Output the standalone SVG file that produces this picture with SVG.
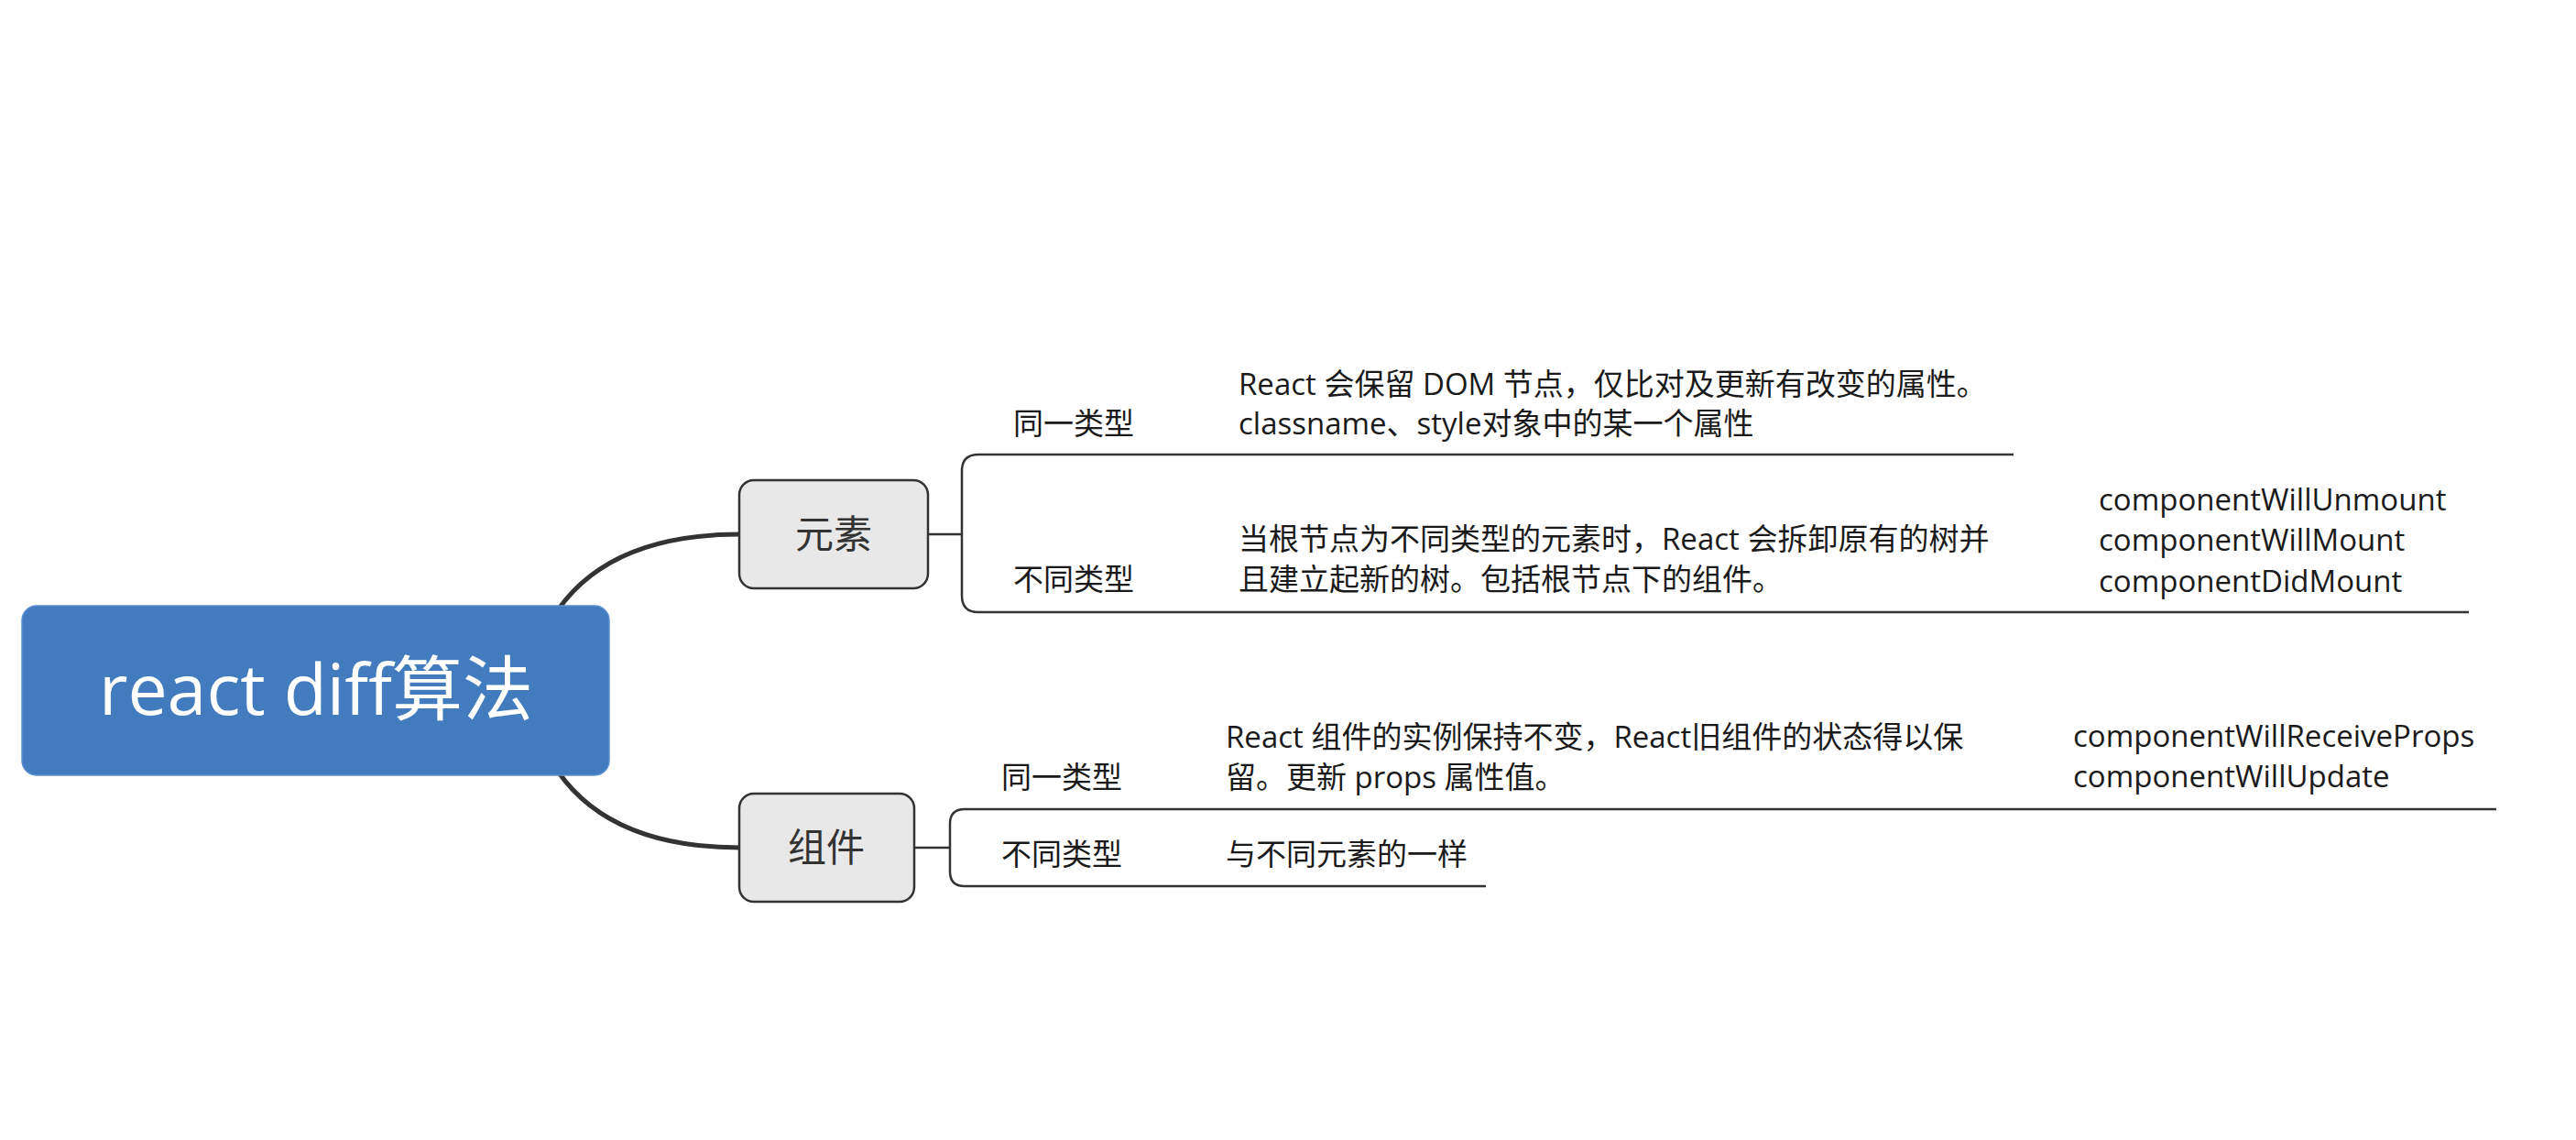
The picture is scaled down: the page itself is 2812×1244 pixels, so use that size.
<svg xmlns="http://www.w3.org/2000/svg" width="2812" height="1244" viewBox="0 0 2812 1244">
<style>
  .t { font-family: "Open Sans", "Noto Sans CJK SC", sans-serif; fill: #1a1a1a; font-size: 33px; }
  .node { fill: #e8e8e8; stroke: #333333; stroke-width: 2.5; }
  .nt { font-family: "Open Sans", "Noto Sans CJK SC", sans-serif; fill: #333333; font-size: 42px; text-anchor: middle; }
  .main { fill: none; stroke: #333333; stroke-width: 5; stroke-linecap: round; }
  .br { fill: none; stroke: #333333; stroke-width: 2.5; }
</style>
<rect width="2812" height="1244" fill="#ffffff"/>
<g id="connectors">
  <path class="main" d="M 590 700 Q 640 583 808 583"/>
  <path class="main" d="M 590 807 Q 640 925 808 925"/>
  <path class="br" d="M 1014 583 H 1050"/>
  <path class="br" d="M 2198 496 H 1068 Q 1050 496 1050 514 V 650 Q 1050 668 1068 668 H 2695"/>
  <path class="br" d="M 999 925 H 1037"/>
  <path class="br" d="M 2725 883 H 1053 Q 1037 883 1037 899 V 951 Q 1037 967 1053 967 H 1622"/>
</g>
<g id="root">
  <rect x="24" y="661" width="641" height="185" rx="16" fill="#427cbe" stroke="#5a8ed0" stroke-width="1.5"/>
  <text x="345" y="780" font-family="Open Sans, Noto Sans CJK SC, sans-serif" font-size="77" fill="#ffffff" text-anchor="middle">react diff算法</text>
</g>
<g id="node-yuansu">
  <rect class="node" x="807" y="524" width="206" height="118" rx="16"/>
  <text class="nt" x="910" y="598">元素</text>
</g>
<g id="node-zujian">
  <rect class="node" x="807" y="866" width="191" height="118" rx="16"/>
  <text class="nt" x="902" y="940">组件</text>
</g>
<g id="yuansu-same">
  <text class="t" x="1106" y="474">同一类型</text>
</g>
<g id="yuansu-same-desc">
  <text class="t" x="1352" y="431">React 会保留 DOM 节点，仅比对及更新有改变的属性。</text>
  <text class="t" x="1352" y="474">classname、style对象中的某一个属性</text>
</g>
<g id="yuansu-diff">
  <text class="t" x="1106" y="644">不同类型</text>
</g>
<g id="yuansu-diff-desc">
  <text class="t" x="1352" y="600">当根节点为不同类型的元素时，React 会拆卸原有的树并</text>
  <text class="t" x="1352" y="644">且建立起新的树。包括根节点下的组件。</text>
</g>
<g id="yuansu-diff-life">
  <text class="t" x="2291" y="557">componentWillUnmount</text>
  <text class="t" x="2291" y="601">componentWillMount</text>
  <text class="t" x="2291" y="646">componentDidMount</text>
</g>
<g id="zujian-same">
  <text class="t" x="1093" y="860">同一类型</text>
</g>
<g id="zujian-same-desc">
  <text class="t" x="1338" y="816">React 组件的实例保持不变，React旧组件的状态得以保</text>
  <text class="t" x="1338" y="860">留。更新 props 属性值。</text>
</g>
<g id="zujian-same-life">
  <text class="t" x="2263" y="815">componentWillReceiveProps</text>
  <text class="t" x="2263" y="859">componentWillUpdate</text>
</g>
<g id="zujian-diff">
  <text class="t" x="1093" y="944">不同类型</text>
</g>
<g id="zujian-diff-desc">
  <text class="t" x="1338" y="944">与不同元素的一样</text>
</g>
</svg>
